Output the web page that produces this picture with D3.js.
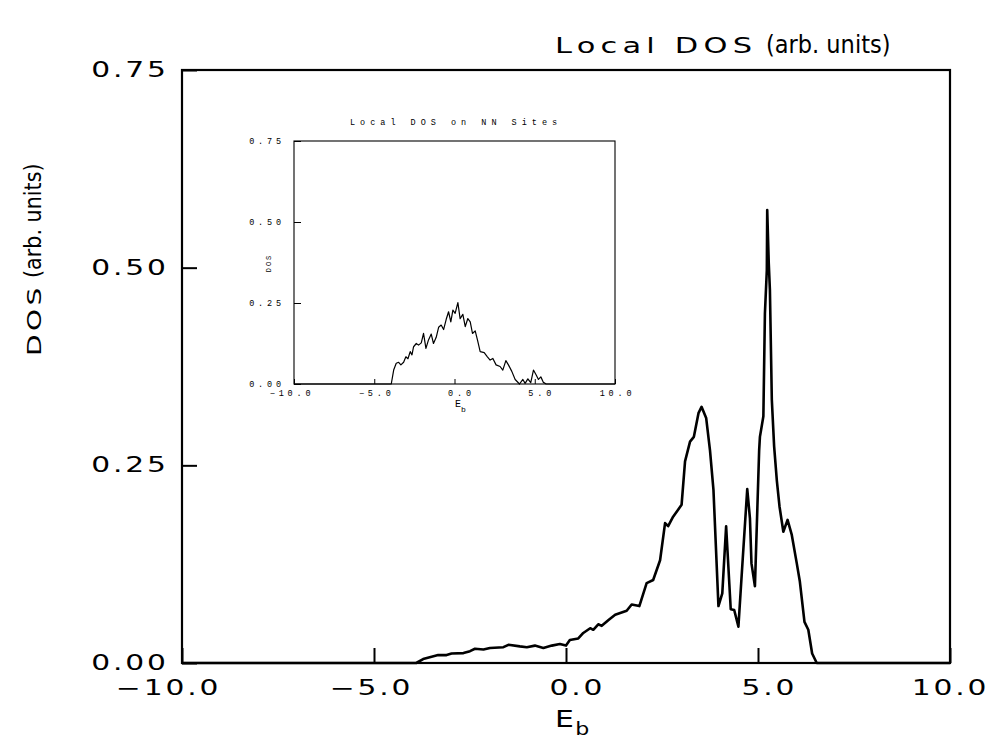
<!DOCTYPE html>
<html><head><meta charset="utf-8">
<script src="https://cdn.jsdelivr.net/npm/d3@7"></script>
<style>body{margin:0;background:#fff}</style>
</head><body><svg id="c" width="990" height="742"></svg>
<script>
// Main panel: local DOS vs E_b
const mainE = [-10,-3.9,-3.72,-3.5,-3.33,-3.11,-2.98,-2.67,-2.5,-2.37,-2.15,-1.98,-1.63,-1.5,-1.2,-1.02,-0.81,-0.59,-0.37,-0.16,0.0,0.1,0.32,0.45,0.63,0.71,0.84,0.93,1.1,1.28,1.58,1.71,1.91,2.1,2.27,2.45,2.58,2.66,2.79,3.01,3.1,3.23,3.33,3.45,3.53,3.65,3.75,3.84,3.97,4.07,4.17,4.29,4.38,4.49,4.6,4.72,4.79,4.83,4.92,5.03,5.05,5.14,5.18,5.23,5.24,5.28,5.31,5.36,5.42,5.49,5.56,5.66,5.77,5.88,6.01,6.09,6.21,6.31,6.41,6.53,10];
const mainDOS = [0,0,0.005,0.008,0.010,0.010,0.012,0.0125,0.015,0.018,0.017,0.019,0.020,0.023,0.021,0.020,0.022,0.019,0.022,0.024,0.022,0.029,0.031,0.038,0.044,0.042,0.049,0.047,0.054,0.061,0.066,0.074,0.072,0.101,0.105,0.130,0.177,0.173,0.185,0.200,0.255,0.280,0.286,0.316,0.324,0.310,0.269,0.219,0.072,0.088,0.173,0.068,0.067,0.046,0.13,0.220,0.183,0.126,0.097,0.269,0.286,0.312,0.442,0.497,0.573,0.506,0.472,0.333,0.274,0.231,0.198,0.166,0.181,0.162,0.126,0.103,0.052,0.042,0.012,0,0];

// Inset: local DOS on NN sites
const insetE = [-10,-3.94,-3.79,-3.63,-3.48,-3.34,-3.17,-3.03,-2.90,-2.76,-2.65,-2.55,-2.38,-2.24,-2.07,-1.93,-1.78,-1.62,-1.45,-1.31,-1.14,-0.99,-0.83,-0.68,-0.52,-0.37,-0.23,-0.10,0.04,0.21,0.35,0.52,0.67,0.83,0.98,1.12,1.29,1.43,1.60,1.85,2.05,2.22,2.39,2.59,2.84,3.01,3.20,3.36,3.57,3.78,4.05,4.26,4.40,4.57,4.75,4.92,5.09,5.23,5.38,5.54,5.71,10];
const insetDOS = [0,0,0.043,0.064,0.067,0.059,0.067,0.084,0.078,0.100,0.090,0.115,0.125,0.120,0.127,0.156,0.110,0.136,0.154,0.125,0.144,0.175,0.182,0.168,0.199,0.223,0.192,0.228,0.218,0.251,0.202,0.215,0.177,0.202,0.192,0.156,0.164,0.136,0.100,0.097,0.084,0.074,0.079,0.059,0.054,0.043,0.072,0.059,0.039,0.014,0,0.014,0.002,0.016,0.004,0.043,0.028,0.014,0.022,0.005,0,0];

const xTicks = [-10,-5,0,5,10];
const yTicks = [0,0.25,0.5,0.75];
const titleMain = "Local DOS";
const titleUnits = "(arb. units)";
const yLabelMain = "DOS";
const insetTitle = "Local DOS on NN Sites";

const svg = d3.select("#c");
const SANS = "'DejaVu Sans',sans-serif";
const MONO = "'Liberation Mono','DejaVu Sans Mono',monospace";
const NARROW = "'Liberation Sans Narrow','DejaVu Sans Condensed','Liberation Sans',sans-serif";

function panel(g, xr, yr, o) {
  const x = d3.scaleLinear().domain([-10,10]).range(xr);
  const y = d3.scaleLinear().domain([0,0.75]).range(yr);
  const xa = g.append("g").attr("transform",`translate(0,${yr[0]})`)
    .call(d3.axisBottom(x).tickValues(xTicks).tickFormat(d3.format(".1f"))
      .tickSize(-o.xTick).tickPadding(o.xPad));
  const ya = g.append("g").attr("transform",`translate(${xr[0]},0)`)
    .call(d3.axisLeft(y).tickValues(yTicks).tickFormat(d3.format(".2f"))
      .tickSize(-o.yTick).tickPadding(o.yPad));
  [xa,ya].forEach(a=>{
    a.select(".domain").remove();
    a.selectAll("line").attr("stroke","#000").attr("stroke-width",o.tickW);
    a.selectAll("text").attr("font-family",o.font).attr("font-size",o.fs)
      .attr("letter-spacing",o.ls).attr("fill","#000")
      .attr("transform",`scale(${o.sx},1)`);
  });
  const trail = o.ls*o.sx;
  ya.selectAll("text").attr("x", (-o.yPad + trail)/o.sx);
  // x tick labels are right-aligned a fixed distance right of each tick
  xa.selectAll("text").attr("text-anchor","end").attr("x", (o.xShift + trail)/o.sx);
  g.append("rect").attr("x",xr[0]).attr("y",yr[1])
    .attr("width",xr[1]-xr[0]).attr("height",yr[0]-yr[1])
    .attr("fill","none").attr("stroke","#000").attr("stroke-width",o.frameW);
  return {x,y};
}

// main
const gm = svg.append("g");
const m = panel(gm,[182,950],[663,70],{font:SANS,sx:1.45,xTick:15,yTick:15,xPad:17,yPad:16,fs:20.5,ls:2,xShift:36,tickW:2,frameW:2.2});
gm.append("path").datum(d3.range(mainE.length))
  .attr("fill","none").attr("stroke","#000").attr("stroke-width",2.6)
  .attr("stroke-linejoin","round")
  .attr("d",d3.line().x(i=>m.x(mainE[i])).y(i=>m.y(mainDOS[i])));

// main title
svg.append("text").attr("transform","translate(555,53) scale(1.45,1)")
  .attr("font-family",SANS).attr("font-size",21).attr("letter-spacing",3.6).attr("fill","#000").text(titleMain);
svg.append("text").attr("x",766).attr("y",53)
  .attr("font-family",NARROW).attr("font-size",25).attr("fill","#000").text(titleUnits);

// y label (rotated)
const ylg = svg.append("g").attr("transform","translate(41,356) rotate(-90)");
ylg.append("text").attr("transform","scale(1.4,1)")
  .attr("font-family",SANS).attr("font-size",20).attr("letter-spacing",2.5).attr("fill","#000").text(yLabelMain);
ylg.append("text").attr("x",78).attr("font-family",NARROW).attr("font-size",23).attr("fill","#000").text(titleUnits);

// x label
const xl = svg.append("text").attr("transform","translate(555,727) scale(1.3,1)").attr("fill","#000")
  .attr("font-family",SANS).attr("font-size",23);
xl.append("tspan").text("E");
xl.append("tspan").attr("font-size",17).attr("dy",8).attr("dx",1).text("b");

// inset
const gi = svg.append("g");
const ins = panel(gi,[294,615],[384,141],{font:MONO,sx:1,xTick:5,yTick:7,xPad:6,yPad:13,fs:8.5,ls:3.8,xShift:16,tickW:1,frameW:1.1});
gi.append("path").datum(d3.range(insetE.length))
  .attr("fill","none").attr("stroke","#000").attr("stroke-width",1.2)
  .attr("stroke-linejoin","round")
  .attr("d",d3.line().x(i=>ins.x(insetE[i])).y(i=>ins.y(insetDOS[i])));
svg.append("text").attr("x",350).attr("y",125)
  .attr("font-family",MONO).attr("font-size",8.5).attr("letter-spacing",5).text(insetTitle);
svg.append("text").attr("transform","translate(271,263) rotate(-90)").attr("text-anchor","middle")
  .attr("font-family",MONO).attr("font-size",7).attr("letter-spacing",2).text(yLabelMain);
const il = svg.append("text").attr("x",455).attr("y",407).attr("font-family",MONO).attr("font-size",10);
il.append("tspan").text("E");
il.append("tspan").attr("font-size",8).attr("dy",5).text("b");
</script></body></html>
